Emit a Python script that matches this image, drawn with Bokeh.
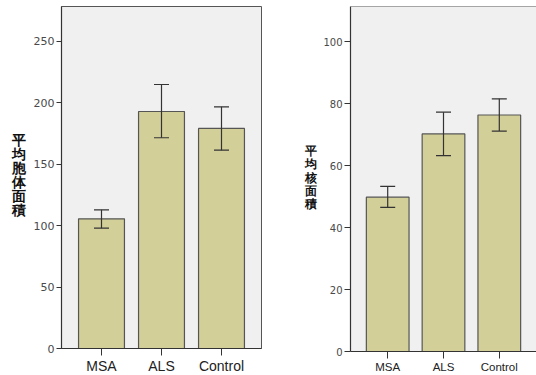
from bokeh.plotting import figure
from bokeh.models import FactorRange, Range1d, Whisker, ColumnDataSource, FixedTicker, Span
from bokeh.layouts import row
from bokeh.embed import file_html
from bokeh.resources import INLINE

groups = ["MSA", "ALS", "Control"]
soma_mean = [105.6, 193.0, 179.2]
soma_upper = [112.9, 215.0, 196.8]
soma_lower = [98.0, 171.6, 161.5]
nucleus_mean = [49.8, 70.2, 76.3]
nucleus_upper = [53.3, 77.2, 81.5]
nucleus_lower = [46.5, 63.2, 71.1]
soma_ticks = [0, 50, 100, 150, 200, 250]
nucleus_ticks = [0, 20, 40, 60, 80, 100]
soma_title = "平均胞体面積"
nucleus_title = "平均核面積"

BAR = "#D3CF98"
BG = "#F0F0F0"
EDGE = "#555555"
H = 372


def label_fig(text, width, fx, fy, font, lh):
    f = figure(width=width, height=H, x_range=Range1d(0, 1), y_range=Range1d(0, 1),
               output_backend="svg", toolbar_location=None,
               min_border=0)
    f.axis.visible = False
    f.grid.visible = False
    f.outline_line_color = None
    f.text(x=[fx], y=[fy], text=["\n".join(text)],
           text_font="Noto Sans CJK JP", text_font_style="bold",
           text_font_size=font, text_align="center", text_baseline="middle",
           text_line_height=lh, text_color="#111111")
    return f


def make(mean, upper, lower, ymax, ticks, fw, fh, mbl, mbr, mbt, mbb,
         xfont, yfont, tick_out, outline=True):
    src = ColumnDataSource(dict(g=groups, m=mean, u=upper, l=lower))
    p = figure(x_range=FactorRange(*groups, range_padding=1/9),
               y_range=Range1d(0, ymax), frame_width=fw, frame_height=fh,
               output_backend="svg", toolbar_location=None,
               min_border_left=mbl, min_border_right=mbr,
               min_border_top=mbt, min_border_bottom=mbb)
    p.background_fill_color = BG
    p.border_fill_color = "white"
    p.grid.visible = False
    if outline:
        p.outline_line_color = "#555555"
    else:
        p.outline_line_color = None
        p.add_layout(Span(location=ymax, dimension="width",
                          line_color="#555555", line_width=1))
    p.vbar(x="g", top="m", width=0.765, source=src, fill_color=BAR,
           line_color=EDGE, line_width=1.2)
    w = Whisker(base="g", upper="u", lower="l", source=src,
                line_color="#333333", line_width=1.2, level="overlay")
    for h in (w.upper_head, w.lower_head):
        h.size = 15
        h.line_color = "#333333"
        h.line_width = 1.2
    p.add_layout(w)

    p.yaxis.ticker = FixedTicker(ticks=ticks)
    p.yaxis.minor_tick_line_color = None
    p.yaxis.major_tick_out = tick_out
    p.yaxis.major_tick_in = 0
    p.yaxis.major_label_standoff = 2
    p.yaxis.major_label_text_font = "DejaVu Sans"
    p.yaxis.major_label_text_font_size = yfont
    p.yaxis.major_label_text_color = "#4a4a4a"
    p.xaxis.major_tick_out = 7
    p.xaxis.major_tick_in = 0
    p.xaxis.major_label_standoff = 2
    p.xaxis.major_label_text_font = "Liberation Sans"
    p.xaxis.major_label_text_font_size = xfont
    p.xaxis.major_label_text_color = "#222222"
    for ax in (p.xaxis, p.yaxis):
        ax.axis_line_color = "#333333"
        ax.major_tick_line_color = "#333333"
        ax.axis_line_width = 1.2
    return p


l1 = label_fig(soma_title, 30, 0.6, 0.499, "14px", 0.93)
p1 = make(soma_mean, soma_upper, soma_lower, 278.5, soma_ticks, 200, 342, 31, 5, 6, 24,
          "14px", "11px", 5)
l2 = label_fig(nucleus_title, 54, 0.815, 0.494, "12px", 0.95)
p2 = make(nucleus_mean, nucleus_upper, nucleus_lower, 111.3, nucleus_ticks, 186, 345,
          30, 0, 6, 21, "11.5px", "10px", 6, outline=False)

layout = row(l1, p1, l2, p2)
open("out.html", "w").write(file_html(layout, INLINE))
